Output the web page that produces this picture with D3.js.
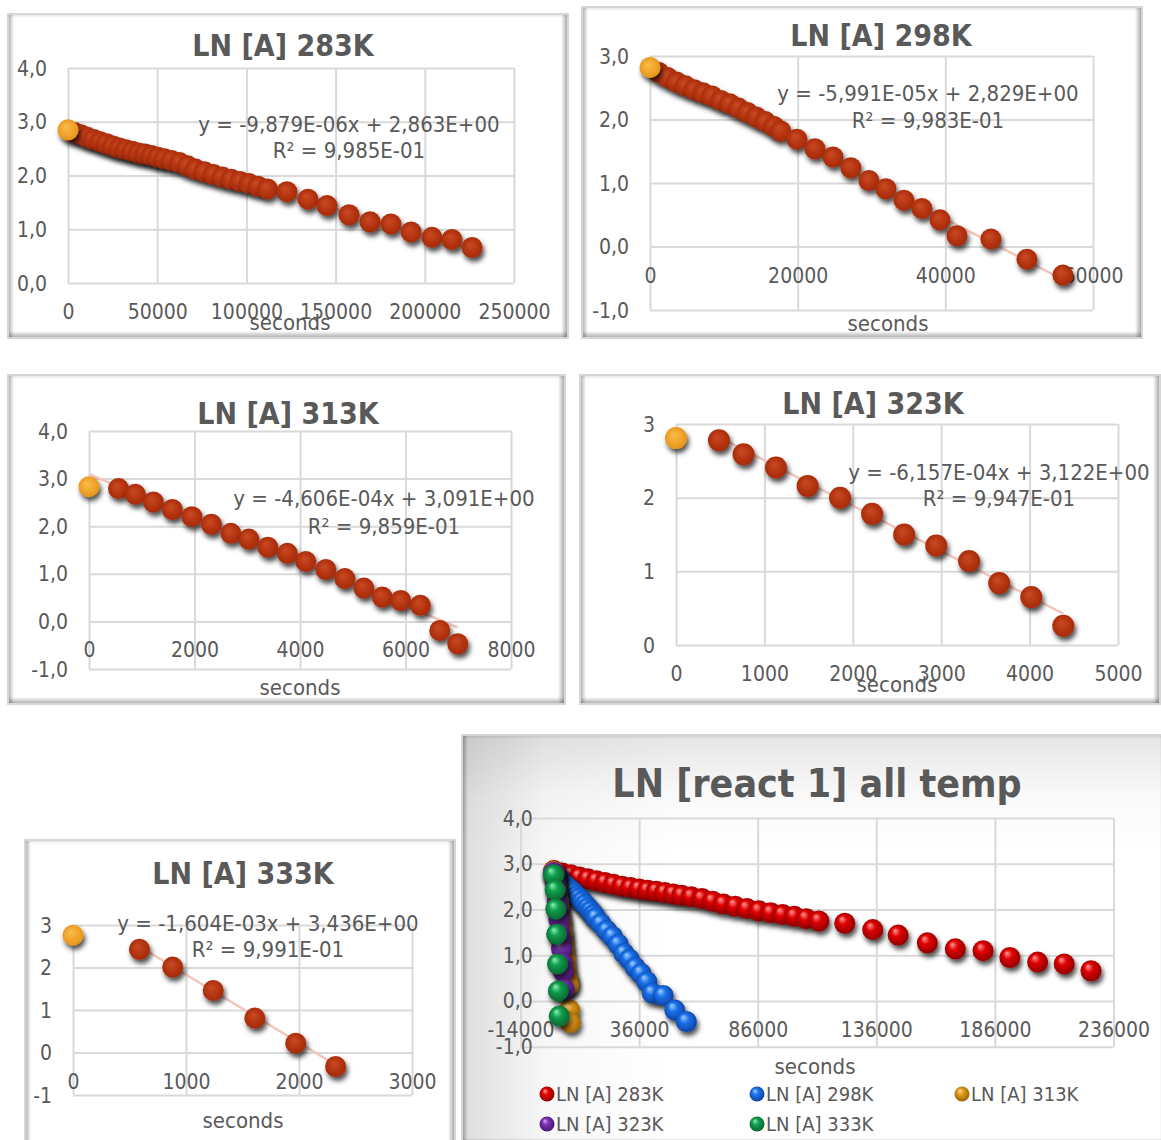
<!DOCTYPE html>
<html><head><meta charset="utf-8">
<script src="https://cdn.jsdelivr.net/npm/d3@7"></script>
<style>
html,body{margin:0;padding:0;background:#fff;}
svg{display:block;}
</style></head><body>
<svg id="c" width="1161" height="1140"></svg>
<script>
// ---------------- data ----------------
const seriesNames = ["LN [A] 283K","LN [A] 298K","LN [A] 313K","LN [A] 323K","LN [A] 333K"];
const panelTitles = ["LN [A] 283K","LN [A] 298K","LN [A] 313K","LN [A] 323K","LN [A] 333K","LN [react 1] all temp"];
const axisTitle = "seconds";

const t283 = [0,3600,7200,10800,14400,18000,21600,25200,28800,32400,36000,39600,43200,46800,50400,54000,58000,62500,67000,71500,76500,81500,86500,91500,96500,101500,106500,111800,122700,134500,145200,157500,169300,181000,192300,204000,215200,226500];
const y283 = [2.85,2.80,2.76,2.71,2.67,2.63,2.59,2.55,2.51,2.48,2.45,2.42,2.40,2.37,2.34,2.31,2.28,2.24,2.18,2.12,2.07,2.02,1.97,1.93,1.89,1.85,1.80,1.75,1.70,1.56,1.44,1.27,1.14,1.10,0.95,0.85,0.81,0.66];

const t298 = [0,1200,2400,3600,4800,6000,7200,8400,9600,10800,12000,13200,14400,15600,16800,17700,19900,22340,24780,27200,29650,31950,34390,36830,39270,41570,46170,51050,55920];
const y298 = [2.82,2.74,2.66,2.59,2.53,2.47,2.42,2.37,2.30,2.25,2.18,2.11,2.04,1.97,1.89,1.82,1.69,1.54,1.41,1.24,1.04,0.91,0.73,0.60,0.42,0.17,0.12,-0.20,-0.45];

const t313 = [0,560,880,1220,1580,1950,2320,2690,3030,3390,3760,4110,4490,4850,5210,5560,5910,6280,6650,6990];
const y313 = [2.83,2.79,2.67,2.51,2.35,2.20,2.04,1.85,1.73,1.56,1.43,1.26,1.09,0.90,0.70,0.51,0.44,0.34,-0.19,-0.47];

const t323 = [0,486,764,1131,1489,1856,2218,2581,2944,3315,3656,4019,4381];
const y323 = [2.81,2.78,2.59,2.41,2.16,2.00,1.78,1.50,1.35,1.14,0.84,0.65,0.26];

const t333 = [0,588,882,1241,1609,1971,2324];
const y333 = [2.76,2.43,2.01,1.46,0.81,0.22,-0.33];

const fitSlopes = [-9.879e-6,-5.991e-5,-4.606e-4,-6.157e-4,-1.604e-3];
const fitIntercepts = [2.863,2.829,3.091,3.122,3.436];
const fitStarts = [0,0,0,486,588];
const fitEnds = [226500,55920,6990,4381,2324];
const eqTexts = ["y = -9,879E-06x + 2,863E+00","y = -5,991E-05x + 2,829E+00","y = -4,606E-04x + 3,091E+00","y = -6,157E-04x + 3,122E+00","y = -1,604E-03x + 3,436E+00"];
const r2Texts = ["R\u00B2 = 9,985E-01","R\u00B2 = 9,983E-01","R\u00B2 = 9,859E-01","R\u00B2 = 9,947E-01","R\u00B2 = 9,991E-01"];

const xTicks283 = [0,50000,100000,150000,200000,250000];
const yTicks283 = [0,1,2,3,4];
const xTicks298 = [0,20000,40000,60000];
const yTicks298 = [-1,0,1,2,3];
const xTicks313 = [0,2000,4000,6000,8000];
const yTicks313 = [-1,0,1,2,3,4];
const xTicks323 = [0,1000,2000,3000,4000,5000];
const yTicks323 = [0,1,2,3];
const xTicks333 = [0,1000,2000,3000];
const yTicks333 = [-1,0,1,2,3];
const xTicksAll = [-14000,36000,86000,136000,186000,236000];
const yTicksAll = [-1,0,1,2,3,4];

// ---------------- setup ----------------
const FONT = '"DejaVu Sans Condensed","DejaVu Sans",sans-serif';
const TXT = "#595959";
const svg = d3.select("#c");
svg.append("rect").attr("width",1161).attr("height",1140).attr("fill","#fff");
const defs = svg.append("defs");

function lin(id, x2, y2, stops){
  const g = defs.append("linearGradient").attr("id",id).attr("x1",0).attr("y1",0).attr("x2",x2).attr("y2",y2);
  stops.forEach(s=>g.append("stop").attr("offset",s[0]).attr("stop-color",s[1]).attr("stop-opacity",s[2]));
}
lin("gLeft",1,0,[[0,"#000",0.28],[1,"#000",0]]);
lin("gRight",1,0,[[0,"#000",0],[1,"#000",0.32]]);
lin("gBottom",0,1,[[0,"#000",0],[1,"#000",0.30]]);
lin("gTop",0,1,[[0,"#000",0.10],[1,"#000",0]]);
lin("bg6L",1,0,[[0,"#000",0.13],[0.12,"#000",0.03],[0.3,"#000",0]]);
lin("bg6T",0,1,[[0,"#000",0.10],[0.15,"#000",0.02],[0.3,"#000",0]]);

function rad(id, stops, fx, fy, r){
  const g = defs.append("radialGradient").attr("id",id).attr("cx","50%").attr("cy","50%")
    .attr("fx",fx||"40%").attr("fy",fy||"35%").attr("r",r||"60%");
  stops.forEach(s=>g.append("stop").attr("offset",s[0]).attr("stop-color",s[1]));
}
rad("mRed",[[0,"#c94a24"],[0.6,"#b2320f"],[1,"#9c2708"]]);
rad("mOrange",[[0,"#f9bd4a"],[0.6,"#f0a22a"],[1,"#dc8a10"]]);
const sphereColors = [
  ["#ff9a9a","#e00000","#7a0000"],
  ["#9fd0ff","#1b72ec","#08388e"],
  ["#ffe09a","#e49a1c","#8a5600"],
  ["#d6a6f2","#7a32b0","#3a0e62"],
  ["#8ff0b8","#12a04e","#04562a"]
];
sphereColors.forEach((c,i)=>rad("s"+i,[[0,c[0]],[0.35,c[1]],[1,c[2]]],"35%","28%","62%"));

const f = defs.append("filter").attr("id","sh").attr("x","-60%").attr("y","-60%").attr("width","220%").attr("height","220%");
f.append("feDropShadow").attr("dx",2).attr("dy",4).attr("stdDeviation",2.5).attr("flood-color","#000").attr("flood-opacity",0.7);

const locale = d3.formatLocale({decimal:",",thousands:".",grouping:[3],currency:["",""],minus:"-"});
const fmt1 = locale.format(".1f");
const fmtInt = d => String(d);

function frame(x,y,w,h,vignette){
  const g = svg.append("g");
  g.append("rect").attr("x",x).attr("y",y).attr("width",w).attr("height",h).attr("fill","#fff")
    .attr("stroke","#d6d6d6").attr("stroke-width",2);
  if (vignette){
    g.append("rect").attr("x",x+1).attr("y",y+1).attr("width",w-2).attr("height",h-2).attr("fill","url(#bg6L)");
    g.append("rect").attr("x",x+1).attr("y",y+1).attr("width",w-2).attr("height",h-2).attr("fill","url(#bg6T)");
  }
  g.append("rect").attr("x",x+1).attr("y",y+1).attr("width",w-2).attr("height",3).attr("fill","url(#gTop)");
  g.append("rect").attr("x",x+1).attr("y",y+1).attr("width",5).attr("height",h-2).attr("fill","url(#gLeft)");
  g.append("rect").attr("x",x+w-7).attr("y",y+1).attr("width",6).attr("height",h-2).attr("fill","url(#gRight)");
  g.append("rect").attr("x",x+1).attr("y",y+h-7).attr("width",w-2).attr("height",6).attr("fill","url(#gBottom)");
}

function txt(g,x,y,s,size,bold,anchor){
  return g.append("text").attr("x",x).attr("y",y).attr("text-anchor",anchor||"middle")
    .attr("dominant-baseline","central").style("font-family",FONT).style("font-size",size+"px")
    .style("font-weight",bold?"bold":"normal").style("fill",TXT).text(s);
}

function axesAndGrid(g,x,y,xt,yt,yfmt){
  const h = y.range()[0]-y.range()[1];
  const w = x.range()[1]-x.range()[0];
  const gxg = g.append("g").attr("transform",`translate(0,${y.range()[0]})`)
    .call(d3.axisBottom(x).tickValues(xt).tickSize(-h).tickFormat(""));
  gxg.select(".domain").remove();
  gxg.selectAll("line").attr("stroke","#d9d9d9").attr("stroke-width",2);
  const gyg = g.append("g").attr("transform",`translate(${x.range()[0]},0)`)
    .call(d3.axisLeft(y).tickValues(yt).tickSize(-w).tickFormat(""));
  gyg.select(".domain").remove();
  gyg.selectAll("line").attr("stroke","#d9d9d9").attr("stroke-width",2);
  // labels: axes cross at zero
  const ax = g.append("g").attr("transform",`translate(0,${y(0)})`)
    .call(d3.axisBottom(x).tickValues(xt).tickSize(0).tickFormat(fmtInt));
  ax.select(".domain").remove();
  ax.attr("font-family",null).attr("font-size",null);
  ax.selectAll("text").attr("y",29).attr("dy",null).attr("dominant-baseline","central")
    .style("font-family",FONT).style("font-size","21px").style("fill",TXT);
  const ay = g.append("g").attr("transform",`translate(${x(0)},0)`)
    .call(d3.axisLeft(y).tickValues(yt).tickSize(0).tickPadding(21).tickFormat(yfmt));
  ay.select(".domain").remove();
  ay.attr("font-family",null).attr("font-size",null);
  ay.selectAll("text").attr("dy",null).attr("dominant-baseline","central")
    .style("font-family",FONT).style("font-size","21px").style("fill",TXT);
}

// ---------------- single panels ----------------
const singles = [
  {t:t283,v:y283,xt:xTicks283,yt:yTicks283,xd:[0,250000],xr:[68,514],yd:[0,4],yr:[283,68],yfmt:fmt1,
   fr:[8,14,560,324],title:[283,45],sec:[290,322],eq:[349,124,150],r:10.5},
  {t:t298,v:y298,xt:xTicks298,yt:yTicks298,xd:[0,60000],xr:[650,1093],yd:[-1,3],yr:[310,56],yfmt:fmt1,
   fr:[582,7,560,331],title:[881,35],sec:[888,323],eq:[928,93,120],r:10.5},
  {t:t313,v:y313,xt:xTicks313,yt:yTicks313,xd:[0,8000],xr:[89,511],yd:[-1,4],yr:[669,431],yfmt:fmt1,
   fr:[8,375,557,329],title:[288,413],sec:[300,687],eq:[384,498,526],r:10.5},
  {t:t323,v:y323,xt:xTicks323,yt:yTicks323,xd:[0,5000],xr:[676,1118],yd:[0,3],yr:[645,424],yfmt:fmtInt,
   fr:[580,375,580,329],title:[873,403],sec:[897,684],eq:[999,472,498],r:11},
  {t:t333,v:y333,xt:xTicks333,yt:yTicks333,xd:[0,3000],xr:[73,412],yd:[-1,3],yr:[1095,925],yfmt:fmtInt,
   fr:[25,840,430,310],title:[243,873],sec:[243,1120],eq:[268,923,949],r:10.5}
];

singles.forEach((p,i)=>{
  frame(...p.fr);
  const g = svg.append("g");
  const x = d3.scaleLinear().domain(p.xd).range(p.xr);
  const y = d3.scaleLinear().domain(p.yd).range(p.yr);
  axesAndGrid(g,x,y,p.xt,p.yt,p.yfmt);
  txt(g,p.title[0],p.title[1],panelTitles[i],30,true);
  txt(g,p.sec[0],p.sec[1],axisTitle,22,false);
  // trendline
  const tl = [fitStarts[i],fitEnds[i]];
  g.append("line").attr("x1",x(tl[0])).attr("y1",y(fitIntercepts[i]+fitSlopes[i]*tl[0]))
    .attr("x2",x(tl[1])).attr("y2",y(fitIntercepts[i]+fitSlopes[i]*tl[1]))
    .attr("stroke","#f2c6bc").attr("stroke-width",2.5);
  const idx = d3.range(1,p.t.length);
  g.selectAll("circle.pt").data(idx).join("circle").attr("class","pt")
    .attr("cx",k=>x(p.t[k])).attr("cy",k=>y(p.v[k])).attr("r",p.r)
    .attr("fill","url(#mRed)").attr("filter","url(#sh)");
  g.append("circle").attr("cx",x(p.t[0])).attr("cy",y(p.v[0])).attr("r",p.r)
    .attr("fill","url(#mOrange)").attr("filter","url(#sh)");
  txt(g,p.eq[0],p.eq[1],eqTexts[i],22,false);
  txt(g,p.eq[0],p.eq[2],r2Texts[i],22,false);
});

// ---------------- combined panel ----------------
frame(462,735,705,410,true);
{
  const g = svg.append("g");
  const x = d3.scaleLinear().domain([-14000,236000]).range([520.5,1113.5]);
  const y = d3.scaleLinear().domain([-1,4]).range([1046.7,818]);
  axesAndGrid(g,x,y,xTicksAll,yTicksAll,fmt1);
  txt(g,817,783,panelTitles[5],39,true);
  txt(g,815,1066,axisTitle,22,false);
  const all = [[t283,y283],[t298,y298],[t313,y313],[t323,y323],[t333,y333]];
  all.forEach((s,si)=>{
    g.append("g").selectAll("circle").data(d3.range(s[0].length)).join("circle")
      .attr("cx",k=>x(s[0][k])).attr("cy",k=>y(s[1][k])).attr("r",10.5)
      .attr("fill",`url(#s${si})`).attr("filter","url(#sh)");
  });
  // legend
  const lx = [547,757,962], ly = [1094,1124];
  seriesNames.forEach((n,i)=>{
    const cx = lx[i%3], cy = ly[Math.floor(i/3)];
    g.append("circle").attr("cx",cx).attr("cy",cy).attr("r",7.5).attr("fill",`url(#s${i})`);
    txt(g,cx+9,cy,n,20,false,"start");
  });
}
</script>
</body></html>
